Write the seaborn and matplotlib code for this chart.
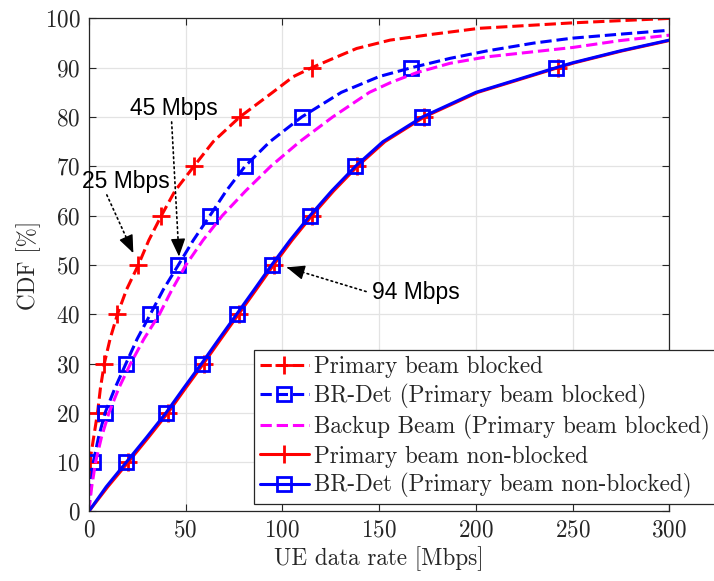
import numpy as np
import pandas as pd
import matplotlib
matplotlib.use("Agg")
import matplotlib.pyplot as plt
import seaborn as sns

# CDF levels [%] and UE data rates [Mbps] per scheme
pb_blocked_cdf = [0, 10, 15, 20, 25, 30, 35, 40, 45, 50, 55, 60, 65, 70, 75, 80, 85, 88.2, 90,
                  92, 93.9, 95.6, 96.8, 98, 99.1, 100]
pb_blocked_rate = [0, 0.5, 2.5, 4.5, 6, 8, 11, 14.8, 19.5, 25.6, 31, 37.5, 44.5, 54.3, 64.3, 78,
                   95, 105.7, 115.2, 127, 138.4, 155.7, 177.9, 202, 250, 300]

brdet_blocked_cdf = [0, 5, 10, 15, 20, 25, 30, 35, 40, 45, 50, 55, 60, 65, 70, 75, 80, 85, 88.2,
                     90, 91.9, 93.4, 95, 96, 96.8, 97.6]
brdet_blocked_rate = [0, 1, 2.3, 5, 8.4, 13.5, 19.2, 25, 31.8, 38.5, 46.3, 54, 62.6, 71, 80.7,
                      93.6, 110, 130.5, 150, 166.7, 186.7, 205.6, 230, 250, 274.5, 300]

backup_cdf = [0, 5, 10, 15, 20, 25, 30, 35, 40, 45, 50, 55, 60, 65, 70, 75, 80, 85, 87, 89,
              90.9, 92.2, 94.1, 95.5, 96.6]
backup_rate = [0, 1.5, 3.5, 6.5, 10.4, 15.5, 21.6, 28.5, 36.5, 43, 50.2, 59, 69, 81, 94, 109,
               126, 145, 156, 169.4, 186.7, 205.6, 250, 274.5, 300]

pb_nonblocked_cdf = [0, 5, 10, 15, 20, 25, 30, 35, 40, 45, 50, 55, 60, 65, 70, 75, 80, 85, 90,
                     91, 93.4, 95.6, 96.5]
pb_nonblocked_rate = [0, 9.8, 20.4, 30.8, 40.9, 50, 59.3, 68.3, 77.4, 86.5, 95.5, 105, 115.3,
                      126.5, 138.8, 153, 173.3, 201, 242.4, 251, 275.5, 301, 315]

brdet_nonblocked_cdf = [0, 5, 10, 15, 20, 25, 30, 35, 40, 45, 50, 55, 60, 65, 70, 75, 80, 85, 90,
                        91, 93.4, 95.6, 96.5]
brdet_nonblocked_rate = [0, 9, 19.4, 29.8, 39.9, 49, 58.3, 67.3, 76.4, 85.5, 94.5, 104, 114.3,
                         125.5, 137.8, 152, 172.3, 200, 241.4, 250, 274.5, 300, 314]

legend_labels = ["Primary beam blocked",
                 "BR-Det (Primary beam blocked)",
                 "Backup Beam (Primary beam blocked)",
                 "Primary beam non-blocked",
                 "BR-Det (Primary beam non-blocked)"]

x_ticks = [0, 50, 100, 150, 200, 250, 300]
y_ticks = [0, 10, 20, 30, 40, 50, 60, 70, 80, 90, 100]

# annotation: (text, arrow tip (rate, cdf), arrow tail (rate, cdf), text anchor (rate, cdf), ha)
annotations = [
    ("25 Mbps", (23.0, 52.4), (9.3, 64.2), (18.9, 67.0), "center"),
    ("45 Mbps", (46.6, 51.7), (42.8, 79.0), (44.1, 81.8), "center"),
    ("94 Mbps", (102.3, 49.5), (143.3, 44.6), (146.2, 44.4), "left"),
]

FS = 16.7

sns.set_style("ticks")
plt.rcParams["font.family"] = ["cmr10", "DejaVu Serif"]
plt.rcParams["mathtext.fontset"] = "cm"
plt.rcParams["axes.formatter.use_mathtext"] = True
plt.rcParams["axes.unicode_minus"] = False

fig = plt.figure(figsize=(7.14, 5.81), dpi=100)
ax = fig.add_axes([0.1244, 0.1198, 0.9374 - 0.1244, 0.9683 - 0.1198])


def marker_idx(levels):
    return [i for i, v in enumerate(levels) if 10 <= v <= 90 and abs(v % 10) < 1e-9]


series = [
    (pb_blocked_rate, pb_blocked_cdf, "#ff0000", "--", "+", legend_labels[0]),
    (brdet_blocked_rate, brdet_blocked_cdf, "#0000ff", "--", "s", legend_labels[1]),
    (backup_rate, backup_cdf, "#ff00ff", "--", None, legend_labels[2]),
    (pb_nonblocked_rate, pb_nonblocked_cdf, "#ff0000", "-", "+", legend_labels[3]),
    (brdet_nonblocked_rate, brdet_nonblocked_cdf, "#0000ff", "-", "s", legend_labels[4]),
]

handles = []
for rate, cdf, color, ls, mk, lab in series:
    df = pd.DataFrame({"rate": rate, "cdf": cdf})
    kws = dict(color=color, linestyle=ls, linewidth=2.2, label=lab)
    if mk is not None:
        kws.update(marker=mk, markevery=marker_idx(cdf),
                   markersize=13 if mk == "+" else 9.5,
                   markeredgewidth=2.0, markerfacecolor="none", markeredgecolor=color)
    sns.lineplot(data=df, x="rate", y="cdf", estimator=None, sort=False, ax=ax,
                 legend=False, **kws)
    handles.append(ax.lines[-1])

ax.set_xlim(0, 300)
ax.set_ylim(0, 100)
ax.set_xticks(x_ticks)
ax.set_yticks(y_ticks)
ax.tick_params(direction="in", length=5, width=0.8, color="#262626", labelsize=FS,
               top=True, right=True, pad=6)
ax.grid(True, color="#e3e3e3", linewidth=0.9)
ax.set_axisbelow(True)
for s in ax.spines.values():
    s.set_color("#262626")
    s.set_linewidth(0.9)

ax.set_xlabel("UE data rate [Mbps]", fontsize=FS, color="#262626", labelpad=3)
ax.set_ylabel("CDF [%]", fontsize=FS, color="#262626", labelpad=3)
for lbl in ax.get_xticklabels() + ax.get_yticklabels():
    lbl.set_color("#262626")

# dotted shaft plus a solid filled head for each text arrow
to_disp = ax.transData
to_data = ax.transData.inverted()
for txt, tip, tail, pos, ha in annotations:
    ax.annotate("", xy=tip, xytext=tail,
                arrowprops=dict(arrowstyle="-", linestyle=(0, (1, 2)), linewidth=1.2,
                                color="black", shrinkA=0, shrinkB=0))
    p_tip = np.array(to_disp.transform(tip))
    p_tail = np.array(to_disp.transform(tail))
    d = p_tail - p_tip
    base = to_data.transform(p_tip + d / np.hypot(*d) * 8.0)
    ax.annotate("", xy=tip, xytext=tuple(base),
                arrowprops=dict(arrowstyle="-|>,head_length=1.1,head_width=0.45",
                                mutation_scale=10, linewidth=1.0, color="black",
                                shrinkA=0, shrinkB=0))
    ax.text(pos[0], pos[1], txt, ha=ha, va="center", fontsize=16.5,
            family=["Liberation Sans", "DejaVu Sans"], color="black", clip_on=False)

leg = ax.legend(handles=handles, labels=legend_labels, loc="upper left",
                bbox_to_anchor=(254 / 714, 1 - 350 / 581), bbox_transform=fig.transFigure,
                borderaxespad=0, fontsize=FS, frameon=True, fancybox=False,
                edgecolor="#262626", framealpha=1, handlelength=2.1, handletextpad=0.25,
                labelspacing=0.25, borderpad=0.25)
leg.get_frame().set_linewidth(0.9)

fig.savefig("out.png", dpi=100)
